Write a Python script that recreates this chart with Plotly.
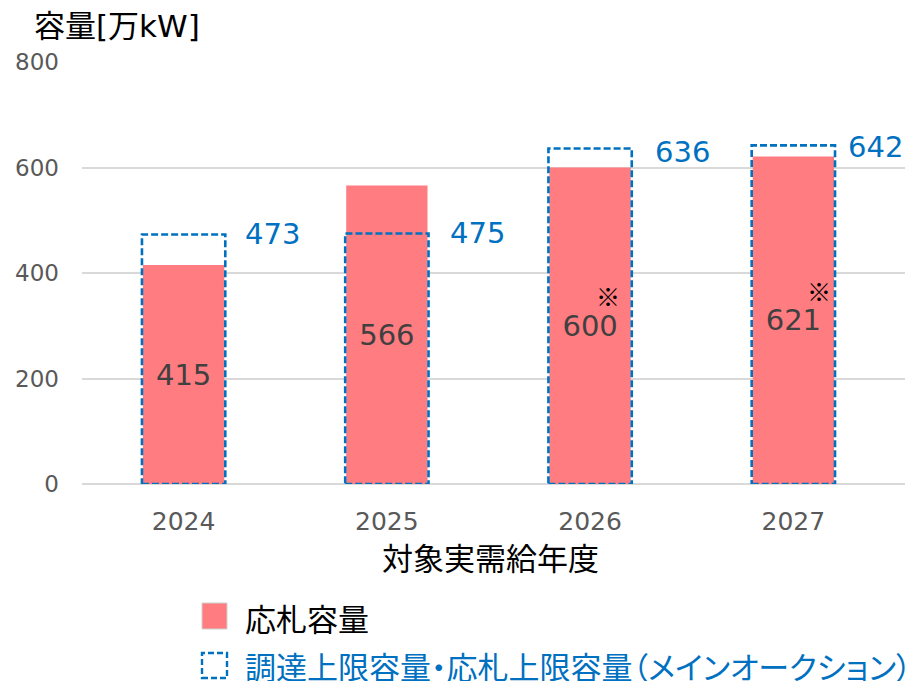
import plotly.graph_objects as go

# --- data -------------------------------------------------------------
years = ["2024", "2025", "2026", "2027"]
bid_capacity = [415, 566, 600, 621]            # 応札容量 [万kW]
cap_limit = [473, 475, 636, 642]               # 調達上限容量・応札上限容量 [万kW]
has_note = [False, False, True, True]          # ※ mark next to the bid value
y_ticks = [0, 200, 400, 600, 800]

# --- styling ----------------------------------------------------------
W, H = 913, 681
ML, MR, MT, MB = 82, 8, 62, 197
PW, PH = W - ML - MR, H - MT - MB
RED = "#FF7C80"
BLUE = "#0070C0"
GRID = "#D9D9D9"
LATIN = "DejaVu Sans, Noto Sans CJK JP, sans-serif"
CJK = "Noto Sans CJK JP, sans-serif"
BAR_W = 0.4
cap_label_xshift = [19, 20, 22, 12]
cap_label_yshift = [0, 0, -3, -2]
note_xshift = [0, 0, 18, 26]


def px_x(px):
    return (px - ML) / PW


def px_y(py):
    return (MT + PH - py) / PH


fig = go.Figure()

fig.add_bar(
    x=years, y=bid_capacity, width=BAR_W,
    marker=dict(color=RED, line=dict(width=0)),
    text=[str(v) for v in bid_capacity],
    textposition="inside", insidetextanchor="middle", textangle=0,
    textfont=dict(family=LATIN, size=29, color="#404040"),
    hoverinfo="skip", showlegend=False,
)

shapes = []
annotations = []
for i, (cap, yr) in enumerate(zip(cap_limit, years)):
    # dashed outline for the upper limit
    shapes.append(dict(
        type="rect", xref="x", yref="y",
        x0=i - BAR_W / 2 - 0.005, x1=i + BAR_W / 2 + 0.005, y0=0, y1=cap,
        line=dict(color=BLUE, width=2.6, dash="7px,3px"),
        fillcolor="rgba(0,0,0,0)", layer="above",
    ))
    annotations.append(dict(
        x=i + BAR_W / 2, y=cap, xref="x", yref="y",
        text=str(cap), showarrow=False, xanchor="left", yanchor="middle",
        xshift=cap_label_xshift[i], yshift=cap_label_yshift[i],
        font=dict(family=LATIN, size=29, color=BLUE),
    ))
    if has_note[i]:
        annotations.append(dict(
            x=i, y=bid_capacity[i] / 2, xref="x", yref="y",
            text="※", showarrow=False, xanchor="center", yanchor="middle",
            xshift=note_xshift[i], yshift=30,
            font=dict(family=CJK, size=24, color="#000000"),
        ))

# axis titles
annotations.append(dict(
    x=px_x(32), y=px_y(26), xref="paper", yref="paper",
    text="容量[万kW]", showarrow=False, xanchor="left", yanchor="middle",
    font=dict(family=LATIN, size=31, color="#000000"),
))
annotations.append(dict(
    x=px_x(490), y=px_y(556), xref="paper", yref="paper",
    text="対象実需給年度", showarrow=False, xanchor="center", yanchor="middle",
    font=dict(family=CJK, size=31, color="#000000"),
))

# legend
shapes.append(dict(
    type="rect", xref="paper", yref="paper",
    x0=px_x(202), x1=px_x(227), y0=px_y(629), y1=px_y(603),
    fillcolor=RED, line=dict(color="#D0D0D0", width=1),
))
shapes.append(dict(
    type="rect", xref="paper", yref="paper",
    x0=px_x(202), x1=px_x(227), y0=px_y(678), y1=px_y(653),
    fillcolor="rgba(0,0,0,0)", line=dict(color=BLUE, width=2.4, dash="6px,3px"),
))
annotations.append(dict(
    x=px_x(243), y=px_y(617), xref="paper", yref="paper",
    text="応札容量", showarrow=False, xanchor="left", yanchor="middle",
    font=dict(family=CJK, size=31, color="#000000"),
))
annotations.append(dict(
    x=px_x(243), y=px_y(665), xref="paper", yref="paper",
    text="<span style=\"font-feature-settings:'palt'\">調達上限容量・応札上限容量（メインオークション）</span>",
    showarrow=False, xanchor="left", yanchor="middle",
    font=dict(family=CJK, size=31, color=BLUE),
))

fig.update_layout(
    width=W, height=H,
    margin=dict(l=ML, r=MR, t=MT, b=MB, pad=0, autoexpand=False),
    plot_bgcolor="white", paper_bgcolor="white",
    shapes=shapes, annotations=annotations,
    bargap=0.6, showlegend=False,
)
fig.update_xaxes(
    type="category", categoryorder="array", categoryarray=years,
    showgrid=False, showline=False, zeroline=False, automargin=False,
    ticks="", ticklabelstandoff=20,
    tickfont=dict(family=LATIN, size=25, color="#595959"),
)
fig.update_yaxes(
    range=[0, 800], tickvals=y_ticks, ticktext=[str(t) for t in y_ticks],
    showgrid=True, gridcolor=GRID, gridwidth=1.6,
    zeroline=True, zerolinecolor=GRID, zerolinewidth=1.6,
    showline=False, automargin=False, ticks="", ticklabelstandoff=22,
    tickfont=dict(family=LATIN, size=23, color="#595959"),
)

fig.write_html("out.html")
